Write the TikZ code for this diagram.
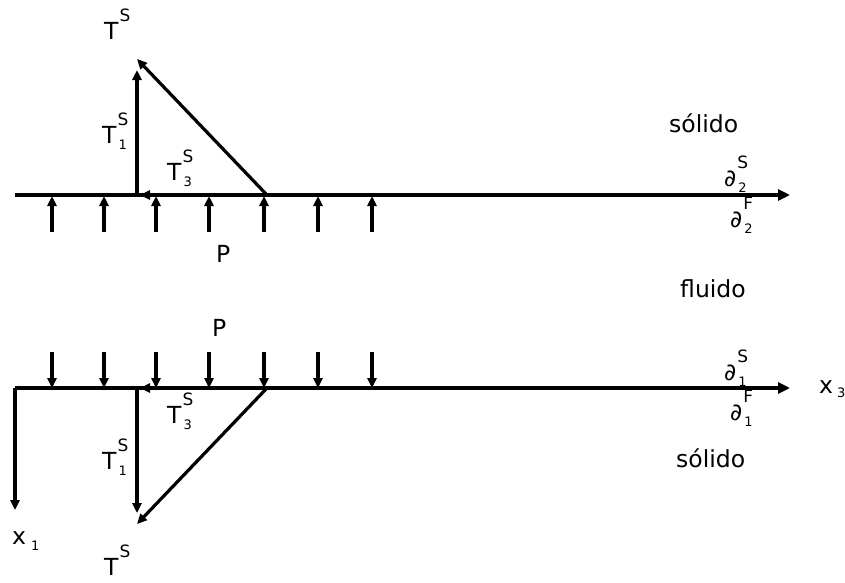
\documentclass[tikz,border=0pt]{standalone}
\usepackage{fontspec}
\setmainfont{DejaVu Sans}
\usetikzlibrary{arrows.meta}
\newcommand\mainf{\fontsize{23.5}{23.5}\selectfont}
\newcommand\supf{\fontsize{17}{17}\selectfont}
\newcommand\subf{\fontsize{13}{13}\selectfont}
\newcommand\lab[3]{#1\rlap{\hspace{1pt}\raisebox{18pt}{\supf #2}}\hspace{2pt}\raisebox{-6pt}{\subf #3}}
\newcommand\labns[2]{#1\hspace{1pt}\raisebox{18pt}{\supf #2}}
\tikzset{
  ln/.style={line width=3.2pt},
  arr/.style={ln,-{Triangle[length=10pt,width=9pt]}},
  axarr/.style={ln,-{Triangle[length=12pt,width=11pt]}},
  lbl/.style={anchor=base west,inner sep=0pt,font=\mainf}
}
\begin{document}
\begin{tikzpicture}[x=1pt,y=-1pt]
\useasboundingbox (0,0) rectangle (845,582);
% ---------- upper boundary ----------
\coordinate (tA) at (15,195);
\coordinate (tB) at (790,195);
\coordinate (tO) at (137,195);
\coordinate (tQ) at (267,195);
\coordinate (tQe) at (140,195);
\coordinate (tV) at (137,70);
\coordinate (tD) at (137,59);
\draw[axarr] (tA) -- (tB);
\foreach \i/\x in {1/52,2/104,3/156,4/209,5/264,6/318,7/372}{
  \coordinate (pu\i) at (\x,232);
  \coordinate (pt\i) at (\x,196);
  \draw[arr] (pu\i) -- (pt\i);
}
\draw[arr] (tO) -- (tV);
\draw[arr] (tQ) -- (tD);
\draw[arr] (tQ) -- (tQe);
% ---------- lower boundary ----------
\coordinate (bA) at (15,388);
\coordinate (bB) at (790,388);
\coordinate (bO) at (137,388);
\coordinate (bQ) at (267,388);
\coordinate (bQe) at (140,388);
\coordinate (bV) at (137,513);
\coordinate (bD) at (137,524);
\coordinate (bX) at (15,510);
\draw[axarr] (bA) -- (bB);
\draw[arr] (bA) -- (bX);
\foreach \i/\x in {1/52,2/104,3/156,4/209,5/264,6/318,7/372}{
  \coordinate (pb\i) at (\x,352);
  \coordinate (pc\i) at (\x,388);
  \draw[arr] (pb\i) -- (pc\i);
}
\draw[arr] (bO) -- (bV);
\draw[arr] (bQ) -- (bD);
\draw[arr] (bQ) -- (bQe);
% ---------- labels ----------
\node[lbl] (TSt) at (104,39) {\labns{T}{S}};
\node[lbl] (T1t) at (102,143) {\lab{T}{S}{1}};
\node[lbl] (T3t) at (167,180) {\lab{T}{S}{3}};
\node[lbl] (Pt) at (216,262) {P};
\node[lbl] (Pb) at (212,336) {P};
\node[lbl] (T3b) at (167,423) {\lab{T}{S}{3}};
\node[lbl] (T1b) at (102,469) {\lab{T}{S}{1}};
\node[lbl] (TSb) at (104,575) {\labns{T}{S}};
\node[lbl] (x1) at (12,544) {x\hspace{5pt}\raisebox{-6pt}{\subf 1}};
\node[lbl] (x3) at (819,393) {x\hspace{4pt}\raisebox{-4pt}{\subf 3}};
\node[lbl] (sol1) at (669,132) {sólido};
\node[lbl] (flu) at (680,297) {fluido};
\node[lbl] (sol2) at (676,467) {sólido};
\node[lbl] (d2S) at (724,186) {\lab{∂}{S}{2}};
\node[lbl] (d2F) at (730,227) {\lab{∂}{F}{2}};
\node[lbl] (d1S) at (724,380) {\lab{∂}{S}{1}};
\node[lbl] (d1F) at (730,420) {\lab{∂}{F}{1}};
\end{tikzpicture}
\end{document}
